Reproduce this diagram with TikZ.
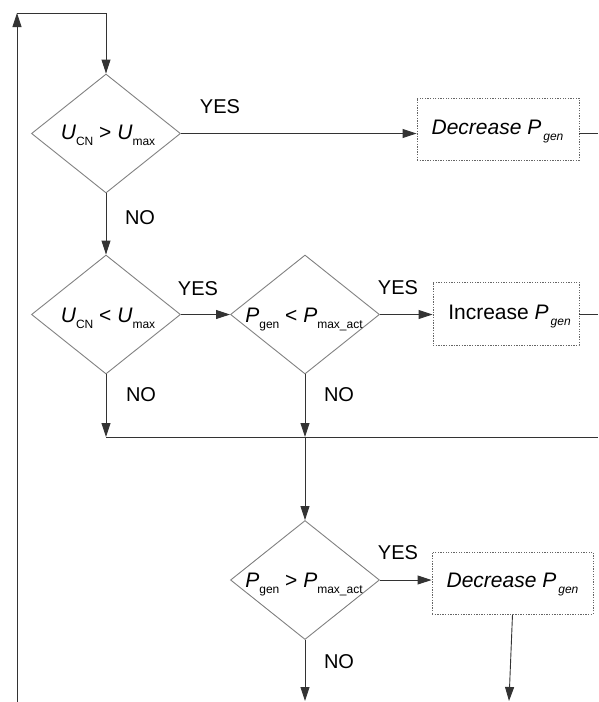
\documentclass[tikz,border=0pt]{standalone}
\usepackage{fontspec}
\setmainfont{Liberation Sans}
\usetikzlibrary{arrows.meta,shapes.geometric}
\newcommand{\dsub}[1]{\raisebox{-6pt}{\fontsize{12}{12}\selectfont #1}}
\newcommand{\bsub}[1]{\raisebox{-6.5pt}{\fontsize{12}{12}\selectfont\itshape #1}}
\begin{document}
\begin{tikzpicture}[x=1pt,y=-1pt,
  dia/.style={diamond, draw=black!50, line width=0.9pt, minimum width=149pt, minimum height=119pt, inner sep=0pt},
  boxn/.style={rectangle, draw=black!60, line width=0.9pt, dash pattern=on 1.3pt off 1.3pt, inner sep=0pt},
  dtext/.style={anchor=base, inner sep=0pt, font=\fontsize{21}{25}\selectfont},
  lbl/.style={inner sep=0pt, font=\fontsize{20}{24}\selectfont},
  conn/.style={draw=black!80, line width=0.9pt},
  arr/.style={conn, -{Triangle[length=14pt,width=9pt]}}
]
\useasboundingbox (0,0) rectangle (598,702);

% diamonds
\node[dia] (d1) at (106,133.5) {};
\node[dia] (d2) at (106,314.5) {};
\node[dia] (d3) at (305,314.5) {};
\node[dia] (d4) at (305,580) {};

% diamond texts
\node[dtext] (t1) at (108,139) {\itshape U\/\upshape\dsub{CN} > \itshape U\/\upshape\dsub{max}};
\node[dtext] (t2) at (108,322) {\itshape U\/\upshape\dsub{CN} < \itshape U\/\upshape\dsub{max}};
\node[dtext] (t3) at (304,322) {\itshape P\/\upshape\dsub{gen} < \itshape P\/\upshape\dsub{max\_act}};
\node[dtext] (t4) at (304,587) {\itshape P\/\upshape\dsub{gen} > \itshape P\/\upshape\dsub{max\_act}};

% boxes
\node[boxn, minimum width=162pt, minimum height=62pt] (b1) at (498,129) {};
\node[boxn, minimum width=146pt, minimum height=63pt] (b2) at (506,313.5) {};
\node[boxn, minimum width=161pt, minimum height=62pt] (b3) at (512.5,583) {};
\node[dtext] (bt1) at (497.5,134) {\itshape Decrease P\hspace{2pt}\bsub{gen}};
\node[dtext] (bt2) at (509.5,319) {Increase \itshape P\hspace{2pt}\bsub{gen}};
\node[dtext] (bt3) at (512.5,587) {\itshape Decrease P\hspace{2pt}\bsub{gen}};

% labels
\node[lbl] (y1) at (220,107) {YES};
\node[lbl] (y2) at (198,289) {YES};
\node[lbl] (y3) at (398,288) {YES};
\node[lbl] (y4) at (398,553) {YES};
\node[lbl] (n1) at (140,218) {NO};
\node[lbl] (n2) at (141,395) {NO};
\node[lbl] (n3) at (339,395) {NO};
\node[lbl] (n4) at (339,662) {NO};

% coordinates
\coordinate (lb) at (17,702);
\coordinate (lt) at (17,13);
\coordinate (e1) at (598,133);
\coordinate (e2) at (598,314.5);
\coordinate (j1) at (106,437);
\coordinate (j2) at (305,437);
\coordinate (e3) at (598,437);
\coordinate (o1) at (305,701);
\coordinate (o2) at (509,701);

% connectors
\draw[arr] (lb) -- (lt);
\draw[arr] (lt) -- (lt -| d1.north) -- (d1.north);
\draw[arr] (d1.east) -- (d1.east -| b1.west);
\draw[conn] (e1 -| b1.east) -- (e1);
\draw[arr] (d1.south) -- (d2.north);
\draw[arr] (d2.east) -- (d3.west);
\draw[arr] (d3.east) -- (d3.east -| b2.west);
\draw[conn] (e2 -| b2.east) -- (e2);
\draw[arr] (d2.south) -- (j1);
\draw[arr] (d3.south) -- (j2);
\draw[conn] (j1) -- (e3);
\draw[arr] (j2) -- (d4.north);
\draw[arr] (d4.east) -- (d4.east -| b3.west);
\draw[arr] (d4.south) -- (o1);
\draw[arr] (b3.south) -- (o2);
\end{tikzpicture}
\end{document}
